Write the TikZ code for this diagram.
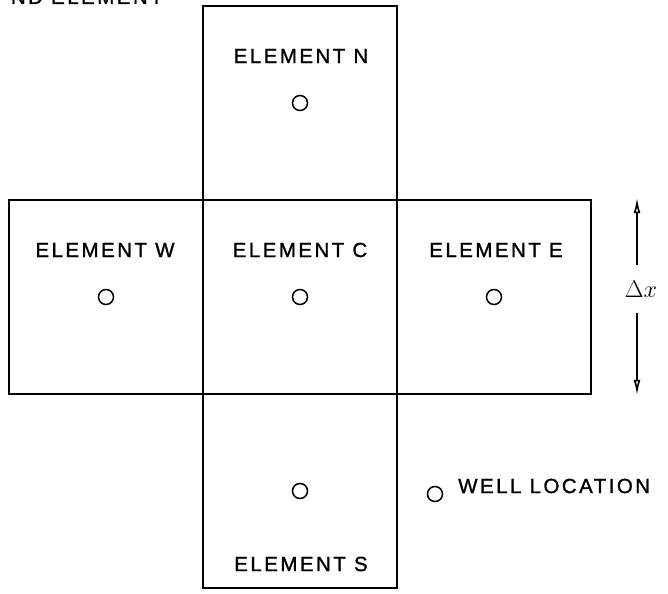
\documentclass[tikz,border=0pt]{standalone}
\usepackage{fontspec}
\usepackage{tikz}
\usetikzlibrary{arrows.meta,positioning}

\newfontfamily\gridfont[LetterSpace=12, FakeBold=1.2]{Liberation Sans}
\newcommand{\cellfont}{\gridfont\fontsize{17.5}{20}\selectfont}

\begin{document}
\begin{tikzpicture}[
    x=0.03cm, y=-0.03cm,
    cell/.style={draw, line width=1.6pt, minimum width=5.82cm, minimum height=5.82cm, inner sep=0pt},
    lbl/.style={font=\cellfont, inner sep=0pt},
    well/.style={draw, circle, line width=1.3pt, minimum size=0.45cm, inner sep=0pt},
    arrow/.style={-{Latex[open, length=13pt, width=6pt]}, line width=1.4pt}
  ]
    \useasboundingbox (0,0) rectangle (668,594);

    % the five grid elements
    \node[cell] (n) at (300, 103) {};
    \node[cell] (w) at (106, 297) {};
    \node[cell] (c) at (300, 297) {};
    \node[cell] (e) at (494, 297) {};
    \node[cell] (s) at (300, 491) {};

    \node[well] (wn) at (n) {};
    \node[well] (ww) at (w) {};
    \node[well] (wc) at (c) {};
    \node[well] (we) at (e) {};
    \node[well] (ws) at (s) {};

    \node[lbl] (ln) at (301, 56) {ELEMENT N};
    \node[lbl] (lw) at (105, 250) {ELEMENT W};
    \node[lbl] (lc) at (300, 250) {ELEMENT C};
    \node[lbl] (le) at (496, 250) {ELEMENT E};
    \node[lbl] (ls) at (301, 564) {ELEMENT S};

    % legend
    \node[well] (wkey) at (435, 494) {};
    \node[lbl, anchor=west] (lkey) at (458, 486) {WELL LOCATION};

    % element width
    \node[font=\fontsize{21}{24}\selectfont, minimum height=1.4cm, inner sep=0pt] (dx) at (641, 289) {$\Delta x$};
    \coordinate (dxtop) at (637, 198);
    \coordinate (dxbot) at (637, 395);
    \draw[arrow] (dx.north -| dxtop) -- (dxtop);
    \draw[arrow] (dx.south -| dxbot) -- (dxbot);

    % caption cut off by the page edge
    \node[lbl, anchor=base east] (cap) at (163, 4) {ND ELEMENT};
  \end{tikzpicture}
\end{document}
